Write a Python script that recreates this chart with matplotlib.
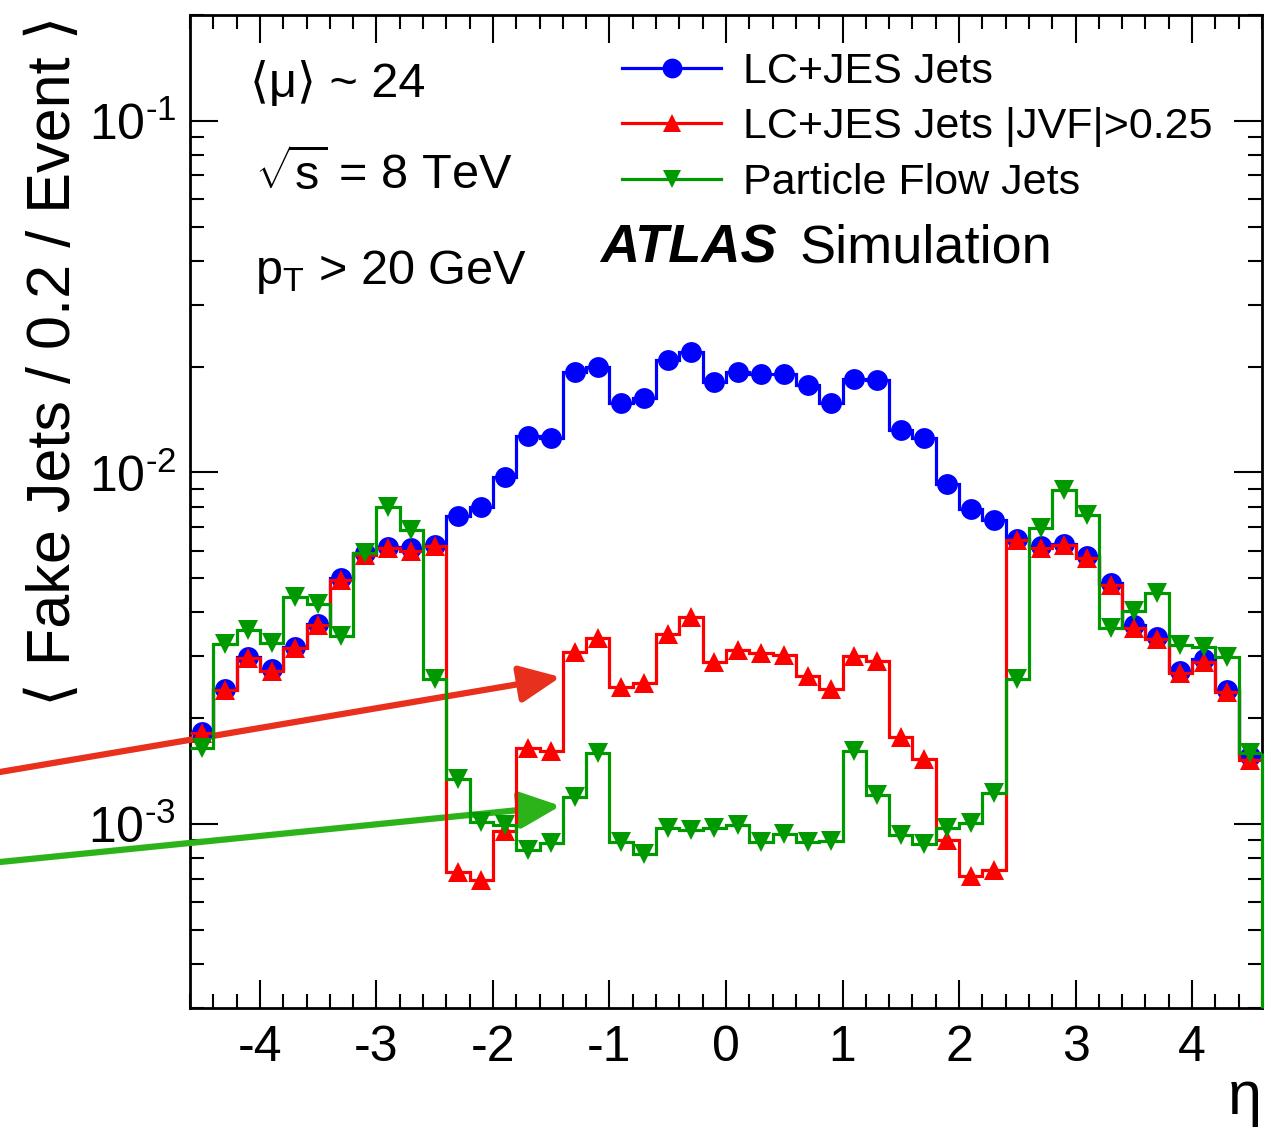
import matplotlib
matplotlib.use('Agg')
import matplotlib.pyplot as plt
import numpy as np
from matplotlib.ticker import MultipleLocator, LogLocator, NullFormatter, FuncFormatter

plt.rcParams['font.family'] = ['Liberation Sans', 'DejaVu Sans']
plt.rcParams['mathtext.fontset'] = 'custom'
plt.rcParams['mathtext.rm'] = 'Liberation Sans'
plt.rcParams['mathtext.it'] = 'Liberation Sans:italic'
plt.rcParams['mathtext.bf'] = 'Liberation Sans:bold'
plt.rcParams['axes.unicode_minus'] = False

# eta binning: 46 bins of width 0.2
eta_edges = np.linspace(-4.6, 4.6, 47)
eta_centers = 0.5 * (eta_edges[:-1] + eta_edges[1:])

# <fake jets / 0.2 / event>
lcjes = [1.83e-3, 2.42e-3, 2.99e-3, 2.76e-3, 3.20e-3, 3.72e-3, 5.02e-3, 5.89e-3,
         6.15e-3, 6.08e-3, 6.24e-3, 7.51e-3, 7.96e-3, 9.71e-3, 1.270e-2, 1.251e-2,
         1.925e-2, 1.993e-2, 1.580e-2, 1.632e-2, 2.092e-2, 2.208e-2, 1.803e-2,
         1.929e-2, 1.900e-2, 1.909e-2, 1.777e-2, 1.580e-2, 1.839e-2, 1.827e-2,
         1.324e-2, 1.257e-2, 9.26e-3, 7.86e-3, 7.31e-3, 6.49e-3, 6.17e-3, 6.28e-3,
         5.78e-3, 4.84e-3, 3.68e-3, 3.41e-3, 2.73e-3, 2.94e-3, 2.41e-3, 1.56e-3]

lcjes_jvf = [1.82e-3, 2.40e-3, 2.96e-3, 2.73e-3, 3.16e-3, 3.68e-3, 4.96e-3, 5.82e-3,
             6.08e-3, 6.00e-3, 6.18e-3, 7.29e-4, 6.95e-4, 9.53e-4, 1.645e-3, 1.619e-3,
             3.093e-3, 3.376e-3, 2.46e-3, 2.515e-3, 3.47e-3, 3.886e-3, 2.896e-3,
             3.126e-3, 3.07e-3, 3.027e-3, 2.644e-3, 2.424e-3, 3.007e-3, 2.916e-3,
             1.774e-3, 1.534e-3, 8.99e-4, 7.10e-4, 7.42e-4, 6.42e-3, 6.10e-3, 6.20e-3,
             5.70e-3, 4.78e-3, 3.62e-3, 3.36e-3, 2.69e-3, 2.90e-3, 2.37e-3, 1.52e-3]

pflow = [1.651e-3, 3.253e-3, 3.565e-3, 3.268e-3, 4.413e-3, 4.224e-3, 3.426e-3, 5.886e-3,
         7.98e-3, 6.85e-3, 2.582e-3, 1.343e-3, 1.014e-3, 9.96e-4, 8.46e-4, 8.84e-4,
         1.193e-3, 1.598e-3, 8.90e-4, 8.22e-4, 9.75e-4, 9.60e-4, 9.75e-4,
         9.92e-4, 8.87e-4, 9.39e-4, 8.87e-4, 8.93e-4, 1.619e-3, 1.212e-3,
         9.29e-4, 8.80e-4, 9.78e-4, 1.007e-3, 1.226e-3, 2.587e-3, 6.97e-3, 8.90e-3,
         7.56e-3, 3.605e-3, 4.035e-3, 4.548e-3, 3.232e-3, 3.196e-3, 2.980e-3, 1.592e-3]

series = [
    (lcjes, 'LC+JES Jets', '#0000ff', 'o', 15),
    (lcjes_jvf, 'LC+JES Jets |JVF|>0.25', '#ff0000', '^', 14),
    (pflow, 'Particle Flow Jets', '#009900', 'v', 14),
]

fig = plt.figure(figsize=(12.85, 11.28), dpi=100)
ax = fig.add_axes([190 / 1285, 1 - 1008 / 1128, 1072 / 1285, 993 / 1128])

for i, (vals, label, color, marker, ms) in enumerate(series):
    z = 3 + i
    ax.stairs(vals, eta_edges, baseline=None, color=color, linewidth=2.3, zorder=z)
    ax.plot(eta_centers, vals, linestyle='none', marker=marker, markersize=ms,
            color=color, markeredgewidth=0, zorder=z + 0.5)
    ax.plot([], [], color=color, marker=marker, markersize=ms * 0.95, lw=2.3,
            markeredgewidth=0, label=label)

ax.set_yscale('log')
ax.set_xlim(-4.6, 4.6)
ax.set_ylim(3e-4, 0.2)

# histogram drops to zero at the upper edge (only the top-most one is visible)
ax.vlines(eta_edges[-1], 3e-4, pflow[-1], color='#009900', linewidth=2.3, zorder=6,
          clip_on=False)

ax.xaxis.set_major_locator(MultipleLocator(1))
ax.xaxis.set_minor_locator(MultipleLocator(0.2))
ax.yaxis.set_major_locator(LogLocator(base=10))
ax.yaxis.set_minor_locator(LogLocator(base=10, subs=np.arange(2, 10)))
ax.yaxis.set_minor_formatter(NullFormatter())
ax.yaxis.set_major_formatter(FuncFormatter(
    lambda v, p: r'$\mathdefault{10^{\text{-%d}}}$' % round(-np.log10(v))))

ax.tick_params(which='both', direction='in', top=True, right=True, width=1.5)
ax.tick_params(which='major', length=20)
ax.tick_params(which='minor', length=10)
ax.tick_params(axis='x', labelsize=36, pad=12)
ax.tick_params(axis='y', labelsize=36, pad=10)
for sp in ax.spines.values():
    sp.set_linewidth(2)

ax.set_ylabel('⟨ Fake Jets / 0.2 / Event ⟩', loc='top', fontsize=44)
ax.yaxis.set_label_coords(-0.1, 1.0)
ax.set_xlabel('η', loc='right', fontsize=44)
ax.xaxis.set_label_coords(1.0, -0.062)

leg = ax.legend(loc='upper left', bbox_to_anchor=(0.403, 0.963), frameon=False,
                fontsize=31, handlelength=2.3, handletextpad=0.5, labelspacing=0.36,
                borderpad=0, borderaxespad=0)

ax.text(0.056, 0.917, '⟨μ⟩ ~ 24', transform=ax.transAxes, fontsize=35, va='baseline')
ax.text(0.061, 0.824, r'$\sqrt{\mathrm{s}}$ = 8 TeV', transform=ax.transAxes,
        fontsize=35, va='baseline')
ax.text(0.061, 0.729, r'p$_{\mathrm{T}}$ > 20 GeV', transform=ax.transAxes, fontsize=35,
        va='baseline')
ax.text(0.3825, 0.751, 'ATLAS', transform=ax.transAxes, fontsize=39, fontweight='bold',
        fontstyle='italic', va='baseline')
ax.text(0.569, 0.751, 'Simulation', transform=ax.transAxes, fontsize=39, va='baseline')

# arrows pointing at the JVF and particle flow curves
ax.annotate('', xy=(-1.42, 2.62e-3), xytext=(0, 1 - 772 / 1128),
            textcoords='figure fraction', annotation_clip=False,
            arrowprops=dict(arrowstyle='-|>,head_length=0.55,head_width=0.25',
                            color='#e8301c', lw=4.5, mutation_scale=45,
                            shrinkA=0, shrinkB=0))
ax.annotate('', xy=(-1.42, 1.127e-3), xytext=(0, 1 - 862 / 1128),
            textcoords='figure fraction', annotation_clip=False,
            arrowprops=dict(arrowstyle='-|>,head_length=0.55,head_width=0.25',
                            color='#2db31a', lw=4.5, mutation_scale=45,
                            shrinkA=0, shrinkB=0))

fig.savefig('out.png', dpi=100)
